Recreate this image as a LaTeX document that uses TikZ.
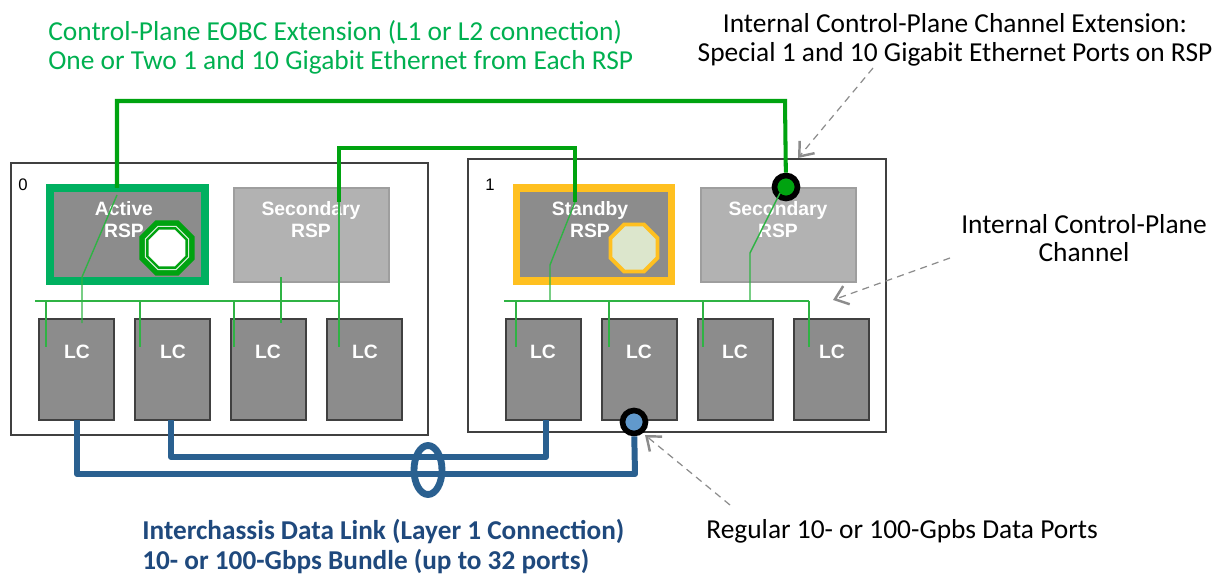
\documentclass[tikz,border=0pt]{standalone}
\usepackage{fontspec}
\setmainfont{Carlito}
\newfontfamily\boxfont{Liberation Sans}
\usetikzlibrary{positioning,shapes.geometric,arrows.meta}
\definecolor{eobcgreen}{HTML}{00A310}
\definecolor{thingreen}{HTML}{2FB344}
\definecolor{activegreen}{HTML}{00B060}
\definecolor{titlegreen}{HTML}{00B050}
\definecolor{standbyyellow}{HTML}{FFC020}
\definecolor{octafill}{HTML}{DCE6CC}
\definecolor{linkblue}{HTML}{2A6090}
\definecolor{titleblue}{HTML}{1F497D}
\definecolor{portblue}{HTML}{6199CC}
\tikzset{
    chassis/.style={draw=black!75, line width=1pt, minimum width=8.34cm, minimum height=5.44cm},
    rspbox/.style={fill=black!45, minimum width=3.1cm, minimum height=1.86cm},
    sparebox/.style={fill=black!30, draw=black!38, line width=0.6pt, minimum width=3.1cm, minimum height=1.88cm},
    lcbox/.style={fill=black!45, draw=black!75, line width=0.8pt, minimum width=1.5cm, minimum height=2.02cm},
    boxtext/.style={text=white, font=\boxfont\bfseries\fontsize{11}{12.5}\selectfont, align=center},
    chassisno/.style={font=\boxfont\fontsize{9.5}{10}\selectfont},
    note/.style={font=\fontsize{15.6}{16.4}\selectfont, align=center, inner sep=0pt},
    octa/.style={regular polygon, regular polygon sides=8, inner sep=0pt},
    port/.style={circle, draw=black, line width=3.2pt, minimum size=0.46cm, inner sep=0pt},
    eobc/.style={eobcgreen, line width=2.3pt},
    tap/.style={thingreen, line width=0.8pt},
    datalink/.style={linkblue, line width=3.4pt},
    pointer/.style={black!45, line width=0.7pt, dash pattern=on 4pt off 3pt, -{Straight Barb[line width=1.4pt,length=7pt,width=11pt]}}
}
\begin{document}
\begin{tikzpicture}[x=0.02cm,y=-0.02cm]
    \useasboundingbox (0,0) rectangle (1227,574);

    % Chassis 0
    \node[chassis] (chassis0) at (219.5,299) {};
    \node[chassisno] (no0) at (23,185) {0};
    \node[rspbox, draw=activegreen, line width=4.5pt] (active) at (127.5,234.5) {};
    \node[sparebox] (spare0) at (311.5,235) {};
    \node[lcbox] (lc01) at (76.5,369.5) {};
    \node[lcbox] (lc02) at (172.5,369.5) {};
    \node[lcbox] (lc03) at (268.5,369.5) {};
    \node[lcbox] (lc04) at (364.5,369.5) {};

    % Chassis 1
    \node[chassis, minimum width=8.36cm, minimum height=5.46cm] (chassis1) at (677,295.5) {};
    \node[chassisno] (no1) at (490,185) {1};
    \node[rspbox, draw=standbyyellow, line width=4.5pt] (standby) at (594,234.5) {};
    \node[sparebox] (spare1) at (778.5,235) {};
    \node[lcbox] (lc11) at (543.5,369.5) {};
    \node[lcbox] (lc12) at (639.5,369.5) {};
    \node[lcbox] (lc13) at (735.5,369.5) {};
    \node[lcbox] (lc14) at (831.5,369.5) {};

    % Box texts
    \node[boxtext] (activetext) at (124,220) {Active\\RSP};
    \node[boxtext] (spare0text) at (311,220) {Secondary\\RSP};
    \node[boxtext] (standbytext) at (590,220) {Standby\\RSP};
    \node[boxtext] (spare1text) at (778,220) {Secondary\\RSP};
    \node[boxtext] (lc01text) at (77,352) {LC};
    \node[boxtext] (lc02text) at (173,352) {LC};
    \node[boxtext] (lc03text) at (268,352) {LC};
    \node[boxtext] (lc04text) at (365,352) {LC};
    \node[boxtext] (lc11text) at (543,352) {LC};
    \node[boxtext] (lc12text) at (639,352) {LC};
    \node[boxtext] (lc13text) at (735,352) {LC};
    \node[boxtext] (lc14text) at (832,352) {LC};

    % Octagons
    \node[octa, fill=eobcgreen, minimum size=1.2cm] (octa0) at (167,248) {};
    \node[octa, fill=eobcgreen, draw=white!85!eobcgreen, line width=0.6pt, minimum size=0.94cm] (octa0mid) at (octa0) {};
    \node[octa, fill=white, minimum size=0.8cm] (octa0in) at (octa0) {};
    \node[octa, fill=octafill, draw=standbyyellow, line width=2.2pt, minimum size=1.02cm] (octa1) at (634,248) {};

    % Bus coordinates
    \coordinate (bus0w) at (35,301);
    \coordinate (bus0e) at (340,301);
    \coordinate (bus1w) at (504,301);
    \coordinate (bus1e) at (809,301);
    \coordinate (eobcA) at (117,101);
    \coordinate (eobcB) at (785,101);
    \coordinate (eobcC) at (339,148);
    \coordinate (eobcD) at (575,148);
    \coordinate (activein) at (117,188);
    \coordinate (activeend) at (117,195);
    \coordinate (activebend) at (82,277);
    \coordinate (activedrop) at (82,323);
    \coordinate (spare0in) at (339,202);
    \coordinate (spare0drop) at (339,347);
    \coordinate (spare0tap) at (281,277);
    \coordinate (spare0low) at (281,323);
    \coordinate (standbyin) at (575,202);
    \coordinate (standbybend) at (550,265);
    \coordinate (standbybus) at (550,301);
    \coordinate (sparebend) at (750,253);
    \coordinate (sparebus) at (750,301);

    % Ports
    \node[port, fill=eobcgreen] (extport) at (786,187) {};
    \coordinate (extportin) at (780,193);

    % Backplanes
    \draw[tap] (bus0w) -- (bus0e);
    \draw[tap] (bus1w) -- (bus1e);
    \draw[tap] (46,301) -- (46,347);
    \draw[tap] (140,301) -- (140,347);
    \draw[tap] (234,301) -- (234,347);
    \draw[tap] (516,301) -- (516,347);
    \draw[tap] (609,301) -- (609,347);
    \draw[tap] (703,301) -- (703,347);
    \draw[tap] (bus1e) -- (809,347);

    % RSP taps
    \draw[tap] (activeend) -- (activebend) -- (activedrop);
    \draw[tap] (spare0tap) -- (spare0low);
    \draw[tap] (spare0in) -- (spare0drop);
    \draw[tap] (standbyin) -- (standbybend) -- (standbybus);
    \draw[tap] (extportin) -- (sparebend) -- (sparebus);

    % Control plane extension
    \draw[eobc] (activein) -- (eobcA) -- (eobcB) -- (extport);
    \draw[eobc] (spare0in) -- (eobcC) -- (eobcD) -- (standbyin);

    % Data links
    \node[port, fill=portblue] (dataport) at (634,422) {};
    \coordinate (linkA) at (77,420);
    \coordinate (linkB) at (77,474);
    \coordinate (linkC) at (635,474);
    \coordinate (linkD) at (171,420);
    \coordinate (linkE) at (171,457);
    \coordinate (linkF) at (546,457);
    \coordinate (linkG) at (546,420);
    \draw[datalink, line join=round] (linkA) -- (linkB) -- (linkC) -- (dataport);
    \draw[datalink, line join=round] (linkD) -- (linkE) -- (linkF) -- (linkG);
    \node[ellipse, draw=linkblue, line width=3.9pt, minimum width=0.56cm, minimum height=0.98cm, inner sep=0pt] (bundle) at (428,470) {};

    % Notes
    \node[note, text=titlegreen, align=left, anchor=west] (eobcnote) at (48,47.5) {Control-Plane EOBC Extension (L1 or L2 connection)\\One or Two 1 and 10 Gigabit Ethernet from Each RSP};
    \node[note] (extnote) at (955,40) {Internal Control-Plane Channel Extension:\\Special 1 and 10 Gigabit Ethernet Ports on RSP};
    \node[note] (intnote) at (1084,238) {Internal Control-Plane\\Channel};
    \node[note, anchor=west] (regnote) at (706,531) {Regular 10- or 100-Gpbs Data Ports};
    \node[note, text=titleblue, align=left, anchor=west, font=\bfseries\fontsize{15.5}{17.4}\selectfont] (linknote) at (142,546.5) {Interchassis Data Link (Layer 1 Connection)\\10- or 100-Gbps Bundle (up to 32 ports)};

    % Pointers
    \coordinate (extfrom) at (873,68);
    \coordinate (extto) at (798,158);
    \coordinate (intfrom) at (950,258);
    \coordinate (intto) at (833,300);
    \coordinate (regfrom) at (730,505);
    \coordinate (regto) at (645,435);
    \draw[pointer] (extfrom) -- (extto);
    \draw[pointer] (intfrom) -- (intto);
    \draw[pointer] (regfrom) -- (regto);

\end{tikzpicture}
\end{document}
